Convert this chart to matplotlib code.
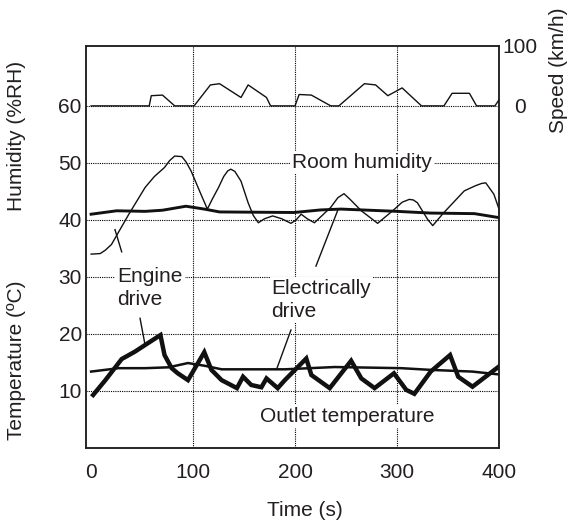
import matplotlib
matplotlib.use('Agg')
import matplotlib.pyplot as plt

plt.rcParams['font.family'] = ['Liberation Sans', 'DejaVu Sans']
plt.rcParams['font.size'] = 15
TXT = '#231f20'

# Vehicle speed (km/h), right axis
speed_t = [0, 57, 59, 70, 82, 101, 117, 126, 147, 154, 172, 176, 200, 204, 216, 235, 243,
           268, 279, 291, 305, 324, 346, 354, 371, 378, 396, 400]
speed_v = [0, 0, 17, 18, 0, 0, 35, 37, 14, 35, 14, 0, 0, 19, 18, 0, 0,
           37, 35, 17, 30, 0, 0, 21, 21, 0, 0, 10]

# Room humidity (%RH), engine drive
hum_eng_t = [0, 9, 14, 20, 37, 53, 62, 72, 77, 82, 89, 93, 98, 107, 114, 119, 125, 130, 134,
             137, 141, 147, 154, 159, 164, 170, 178, 187, 196, 201, 206, 212, 219, 235, 242,
             248, 254, 265, 281, 297, 305, 312, 316, 320, 330, 335, 346, 366, 377, 383, 387,
             395, 400]
hum_eng_v = [34.0, 34.1, 34.7, 35.7, 41.0, 45.7, 47.6, 49.2, 50.4, 51.2, 51.1, 50.2, 48.6,
             44.8, 41.9, 43.7, 45.7, 47.6, 48.6, 48.9, 48.5, 46.8, 43.0, 40.8, 39.5, 40.2,
             40.7, 40.2, 39.4, 40.0, 41.0, 40.2, 39.5, 42.2, 43.9, 44.6, 43.6, 41.6, 39.4,
             41.8, 43.1, 43.6, 43.5, 43.0, 40.1, 39.0, 41.3, 45.1, 46.0, 46.4, 46.5, 44.5,
             41.9]

# Room humidity (%RH), electrically drive
hum_ele_t = [0, 25, 53, 70, 93, 111, 126, 199, 225, 245, 300, 333, 376, 400]
hum_ele_v = [41.0, 41.6, 41.5, 41.7, 42.4, 41.9, 41.4, 41.3, 41.75, 41.9, 41.5, 41.2, 41.1, 40.4]

# Outlet temperature (degC), electrically drive
tmp_ele_t = [0, 27, 53, 76, 95, 112, 128, 190, 239, 304, 333, 374, 400]
tmp_ele_v = [13.4, 14.0, 14.0, 14.15, 14.9, 14.4, 13.8, 13.8, 14.2, 14.0, 13.7, 13.4, 12.9]

# Outlet temperature (degC), engine drive
tmp_eng_t = [2, 14, 30, 43, 58, 68, 72, 79, 85, 95, 111, 118, 128, 143, 149, 157, 167, 172,
             183, 190, 211, 216, 234, 255, 265, 278, 297, 309, 317, 333, 352, 360, 374, 400]
tmp_eng_v = [9.3, 11.9, 15.6, 16.9, 18.65, 19.8, 16.3, 14.0, 13.1, 11.9, 16.8, 13.7, 11.9,
             10.5, 12.5, 11.05, 10.65, 12.2, 10.5, 11.9, 15.7, 12.8, 10.5, 15.3, 12.2, 10.5,
             13.1, 10.2, 9.5, 13.4, 16.3, 12.5, 10.75, 14.3]

left_ticks = [10, 20, 30, 40, 50, 60]
x_ticks = [0, 100, 200, 300, 400]
x_grid = [100, 200, 300]

fig = plt.figure(figsize=(5.7, 5.23), dpi=100)
ax = fig.add_axes([86 / 570, 1 - 448 / 523, 413 / 570, 402 / 523])
ax.set_xlim(-5, 400)
ax.set_ylim(0, 70.5)

# dotted grid
ax.hlines(left_ticks, -5, 400, colors='black', linestyles=(0, (1, 1)), linewidth=0.8, zorder=1)
ax.vlines(x_grid, 0, 70.5, colors='black', linestyles=(0, (1, 1)), linewidth=0.8, zorder=1)

ax.plot(hum_eng_t, hum_eng_v, color='#111111', lw=1.0, zorder=5)
ax.plot(hum_ele_t, hum_ele_v, color='#111111', lw=2.1, zorder=5)
ax.plot(tmp_ele_t, tmp_ele_v, color='#111111', lw=1.8, zorder=5)
ax.plot(tmp_eng_t, tmp_eng_v, color='#111111', lw=3.2, zorder=6, solid_joinstyle='miter')

ax.set_xticks(x_ticks)
ax.set_yticks(left_ticks)
ax.tick_params(axis='both', length=0, colors=TXT, labelsize=15)
ax.tick_params(axis='y', pad=3)
ax.tick_params(axis='x', pad=11)
for s in ax.spines.values():
    s.set_linewidth(1.1)
    s.set_color('#231f20')

ax2 = ax.twinx()
ax2.set_ylim(-60 * 100 / 10.5, 100)
ax2.plot(speed_t, speed_v, color='#111111', lw=1.0, zorder=5)
ax2.set_yticks([0, 100])
ax2.tick_params(axis='y', length=0, colors=TXT, labelsize=15, pad=15)
for lab in ax2.get_yticklabels():
    lab.set_horizontalalignment('center')
for s in ax2.spines.values():
    s.set_linewidth(1.1)
    s.set_color('#231f20')

box = dict(facecolor='white', edgecolor='none', pad=1.5)
ax.text(197, 50.0, 'Room humidity', ha='left', va='center', color=TXT, bbox=box, zorder=3)
ax.text(25.5, 28.1, 'Engine\ndrive', ha='left', va='center', color=TXT, bbox=box,
        zorder=3, linespacing=1.25)
ax.text(177, 26.0, 'Electrically\ndrive', ha='left', va='center', color=TXT, bbox=box,
        zorder=3, linespacing=1.25)
ax.text(165.5, 5.6, 'Outlet temperature', ha='left', va='center', color=TXT, bbox=box, zorder=3)

# leader lines
ax.plot([30.0, 23.4], [34.4, 38.3], color='#111111', lw=1.0, zorder=5)
ax.plot([48.0, 52.9], [22.75, 18.1], color='#111111', lw=1.0, zorder=5)
ax.plot([220.5, 242.0], [31.9, 41.75], color='#111111', lw=1.0, zorder=5)
ax.plot([196.0, 182.3], [20.7, 14.0], color='#111111', lw=1.0, zorder=5)

fig.text(17 / 570, 1 - 136 / 523, 'Humidity (%RH)', rotation=90, ha='center', va='center',
         color=TXT, fontsize=15)
fig.text(17 / 570, 1 - 360 / 523, 'Temperature (ºC)', rotation=90, ha='center', va='center',
         color=TXT, fontsize=15)
fig.text(558 / 570, 1 - 70 / 523, 'Speed (km/h)', rotation=90, ha='center', va='center',
         color=TXT, fontsize=15)
fig.text(305 / 570, 1 - 510 / 523, 'Time (s)', ha='center', va='center', color=TXT, fontsize=15)

fig.savefig('out.png', dpi=100)
